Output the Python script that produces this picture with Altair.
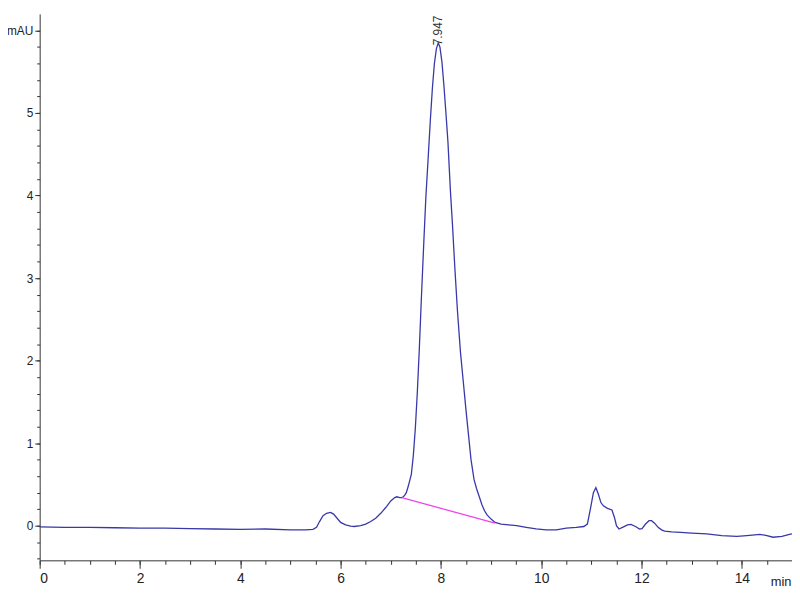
import altair as alt
import pandas as pd

# chromatogram trace (min, mAU)
time_min = [
    0.0, 0.5, 1.0, 1.5, 2.0, 2.5, 3.0, 3.5, 4.0, 4.5, 5.0, 5.3, 5.45, 5.52, 5.58,
    5.65, 5.72, 5.80, 5.86, 5.93, 6.0, 6.1, 6.2, 6.27, 6.4, 6.5, 6.6, 6.7, 6.8,
    6.9, 7.0, 7.08, 7.12, 7.18, 7.22, 7.25, 7.28, 7.31, 7.35, 7.41, 7.45, 7.49,
    7.53, 7.57, 7.61, 7.66, 7.70, 7.75, 7.79, 7.83, 7.87, 7.91, 7.947, 7.98, 8.02,
    8.06, 8.10, 8.14, 8.19, 8.23, 8.28, 8.33, 8.39, 8.45, 8.50, 8.55, 8.60, 8.66,
    8.71, 8.76, 8.82, 8.87, 8.92, 9.00, 9.08, 9.2, 9.35, 9.51, 9.7, 9.9, 10.1,
    10.3, 10.5, 10.7, 10.85, 10.92, 10.98, 11.04, 11.09, 11.14, 11.19, 11.24,
    11.32, 11.41, 11.46, 11.50, 11.55, 11.62, 11.72, 11.79, 11.88, 11.96, 12.01,
    12.08, 12.15, 12.20, 12.26, 12.33, 12.40, 12.46, 12.6, 12.78, 13.0, 13.3,
    13.6, 13.9, 14.1, 14.36, 14.5, 14.62, 14.8, 14.95, 15.0,
]
signal_mau = [
    -0.015, -0.02, -0.02, -0.025, -0.03, -0.03, -0.035, -0.04, -0.045, -0.04,
    -0.05, -0.05, -0.045, -0.02, 0.05, 0.12, 0.15, 0.16, 0.14, 0.09, 0.04, 0.01,
    -0.005, -0.01, 0.0, 0.02, 0.05, 0.09, 0.15, 0.22, 0.30, 0.34, 0.35, 0.34,
    0.34, 0.35, 0.37, 0.40, 0.48, 0.62, 0.85, 1.18, 1.62, 2.15, 2.75, 3.45, 3.98,
    4.50, 4.92, 5.30, 5.60, 5.78, 5.85, 5.80, 5.62, 5.33, 5.00, 4.65, 4.05, 3.65,
    3.10, 2.60, 2.10, 1.72, 1.40, 1.10, 0.80, 0.56, 0.45, 0.36, 0.25, 0.18, 0.13,
    0.08, 0.04, 0.02, 0.01, 0.0, -0.02, -0.04, -0.05, -0.05, -0.03, -0.02, -0.01,
    0.02, 0.20, 0.40, 0.46, 0.38, 0.28, 0.24, 0.21, 0.19, 0.10, 0.00, -0.04,
    -0.02, 0.01, 0.015, -0.01, -0.04, -0.035, 0.02, 0.06, 0.06, 0.03, -0.02,
    -0.05, -0.065, -0.075, -0.08, -0.09, -0.10, -0.12, -0.13, -0.12, -0.105,
    -0.12, -0.14, -0.13, -0.105, -0.10,
]

# integration baseline of the main peak
baseline_x = [7.22, 9.08]
baseline_y = [0.34, 0.03]

# peak annotation
peak_rt = [7.947]
peak_top = [5.82]
peak_label = ["7.947"]

x_major = [0, 2, 4, 6, 8, 10, 12, 14]
x_minor = [v / 2 for v in range(0, 31)]
y_major = [0, 1, 2, 3, 4, 5, 6]
y_minor = [round(-0.4 + 0.2 * i, 1) for i in range(0, 33)]

trace = pd.DataFrame({"t": time_min, "s": signal_mau})
base = pd.DataFrame({"t": baseline_x, "s": baseline_y})
peak = pd.DataFrame({"t": peak_rt, "s": peak_top, "label": peak_label})

FONT = "Liberation Sans, Arial, sans-serif"
xs = alt.Scale(domain=[0, 15], nice=False, zero=False)
ys = alt.Scale(domain=[-0.42, 6.2], nice=False, zero=False)

x_axis_major = alt.Axis(
    orient="bottom", values=x_major, tickSize=8, tickColor="#333", domainColor="#333",
    labelFont=FONT, labelFontSize=14, labelColor="#222", labelPadding=3, grid=False,
    title="min", titleFont=FONT, titleFontSize=13, titleFontWeight="normal",
    titleColor="#222", titleAnchor="end", titleAlign="right", titleX=759, titleY=25,
    titleBaseline="alphabetic",
)
y_axis_major = alt.Axis(
    orient="left", values=y_major, tickSize=5, tickColor="#333", domainColor="#333",
    labelFont=FONT, labelFontSize=12, labelColor="#222", labelPadding=2, grid=False,
    labelExpr="datum.value == 6 ? 'mAU' : datum.label", title=None,
)
x_axis_minor = alt.Axis(
    orient="bottom", values=x_minor, tickSize=4, tickColor="#333", labels=False,
    domain=False, grid=False, title=None,
)
y_axis_minor = alt.Axis(
    orient="left", values=y_minor, tickSize=3, tickColor="#333", labels=False,
    domain=False, grid=False, title=None,
)

line = alt.Chart(trace).mark_line(color="#3838a8", strokeWidth=1.3).encode(
    x=alt.X("t:Q", scale=xs, axis=x_axis_major),
    y=alt.Y("s:Q", scale=ys, axis=y_axis_major),
)
bl = alt.Chart(base).mark_line(color="#ee44ee", strokeWidth=1.3).encode(
    x=alt.X("t:Q", scale=xs, axis=x_axis_minor),
    y=alt.Y("s:Q", scale=ys, axis=y_axis_minor),
)
txt = alt.Chart(peak).mark_text(
    angle=270, align="left", baseline="middle", font=FONT, fontSize=12,
    color="#333", dx=0,
).encode(
    x=alt.X("t:Q", scale=xs, axis=None),
    y=alt.Y("s:Q", scale=ys, axis=None),
    text="label:N",
)

chart = (
    alt.layer(line, bl, txt)
    .resolve_axis(x="independent", y="independent")
    .properties(
        width=760, height=552,
        autosize=alt.AutoSizeParams(type="none"),
        padding={"left": 32, "top": 3, "right": 0, "bottom": 30},
        background="white",
    )
    .configure_view(stroke=None)
)

chart.save("out.html", embed_options={"renderer": "svg", "actions": False})
